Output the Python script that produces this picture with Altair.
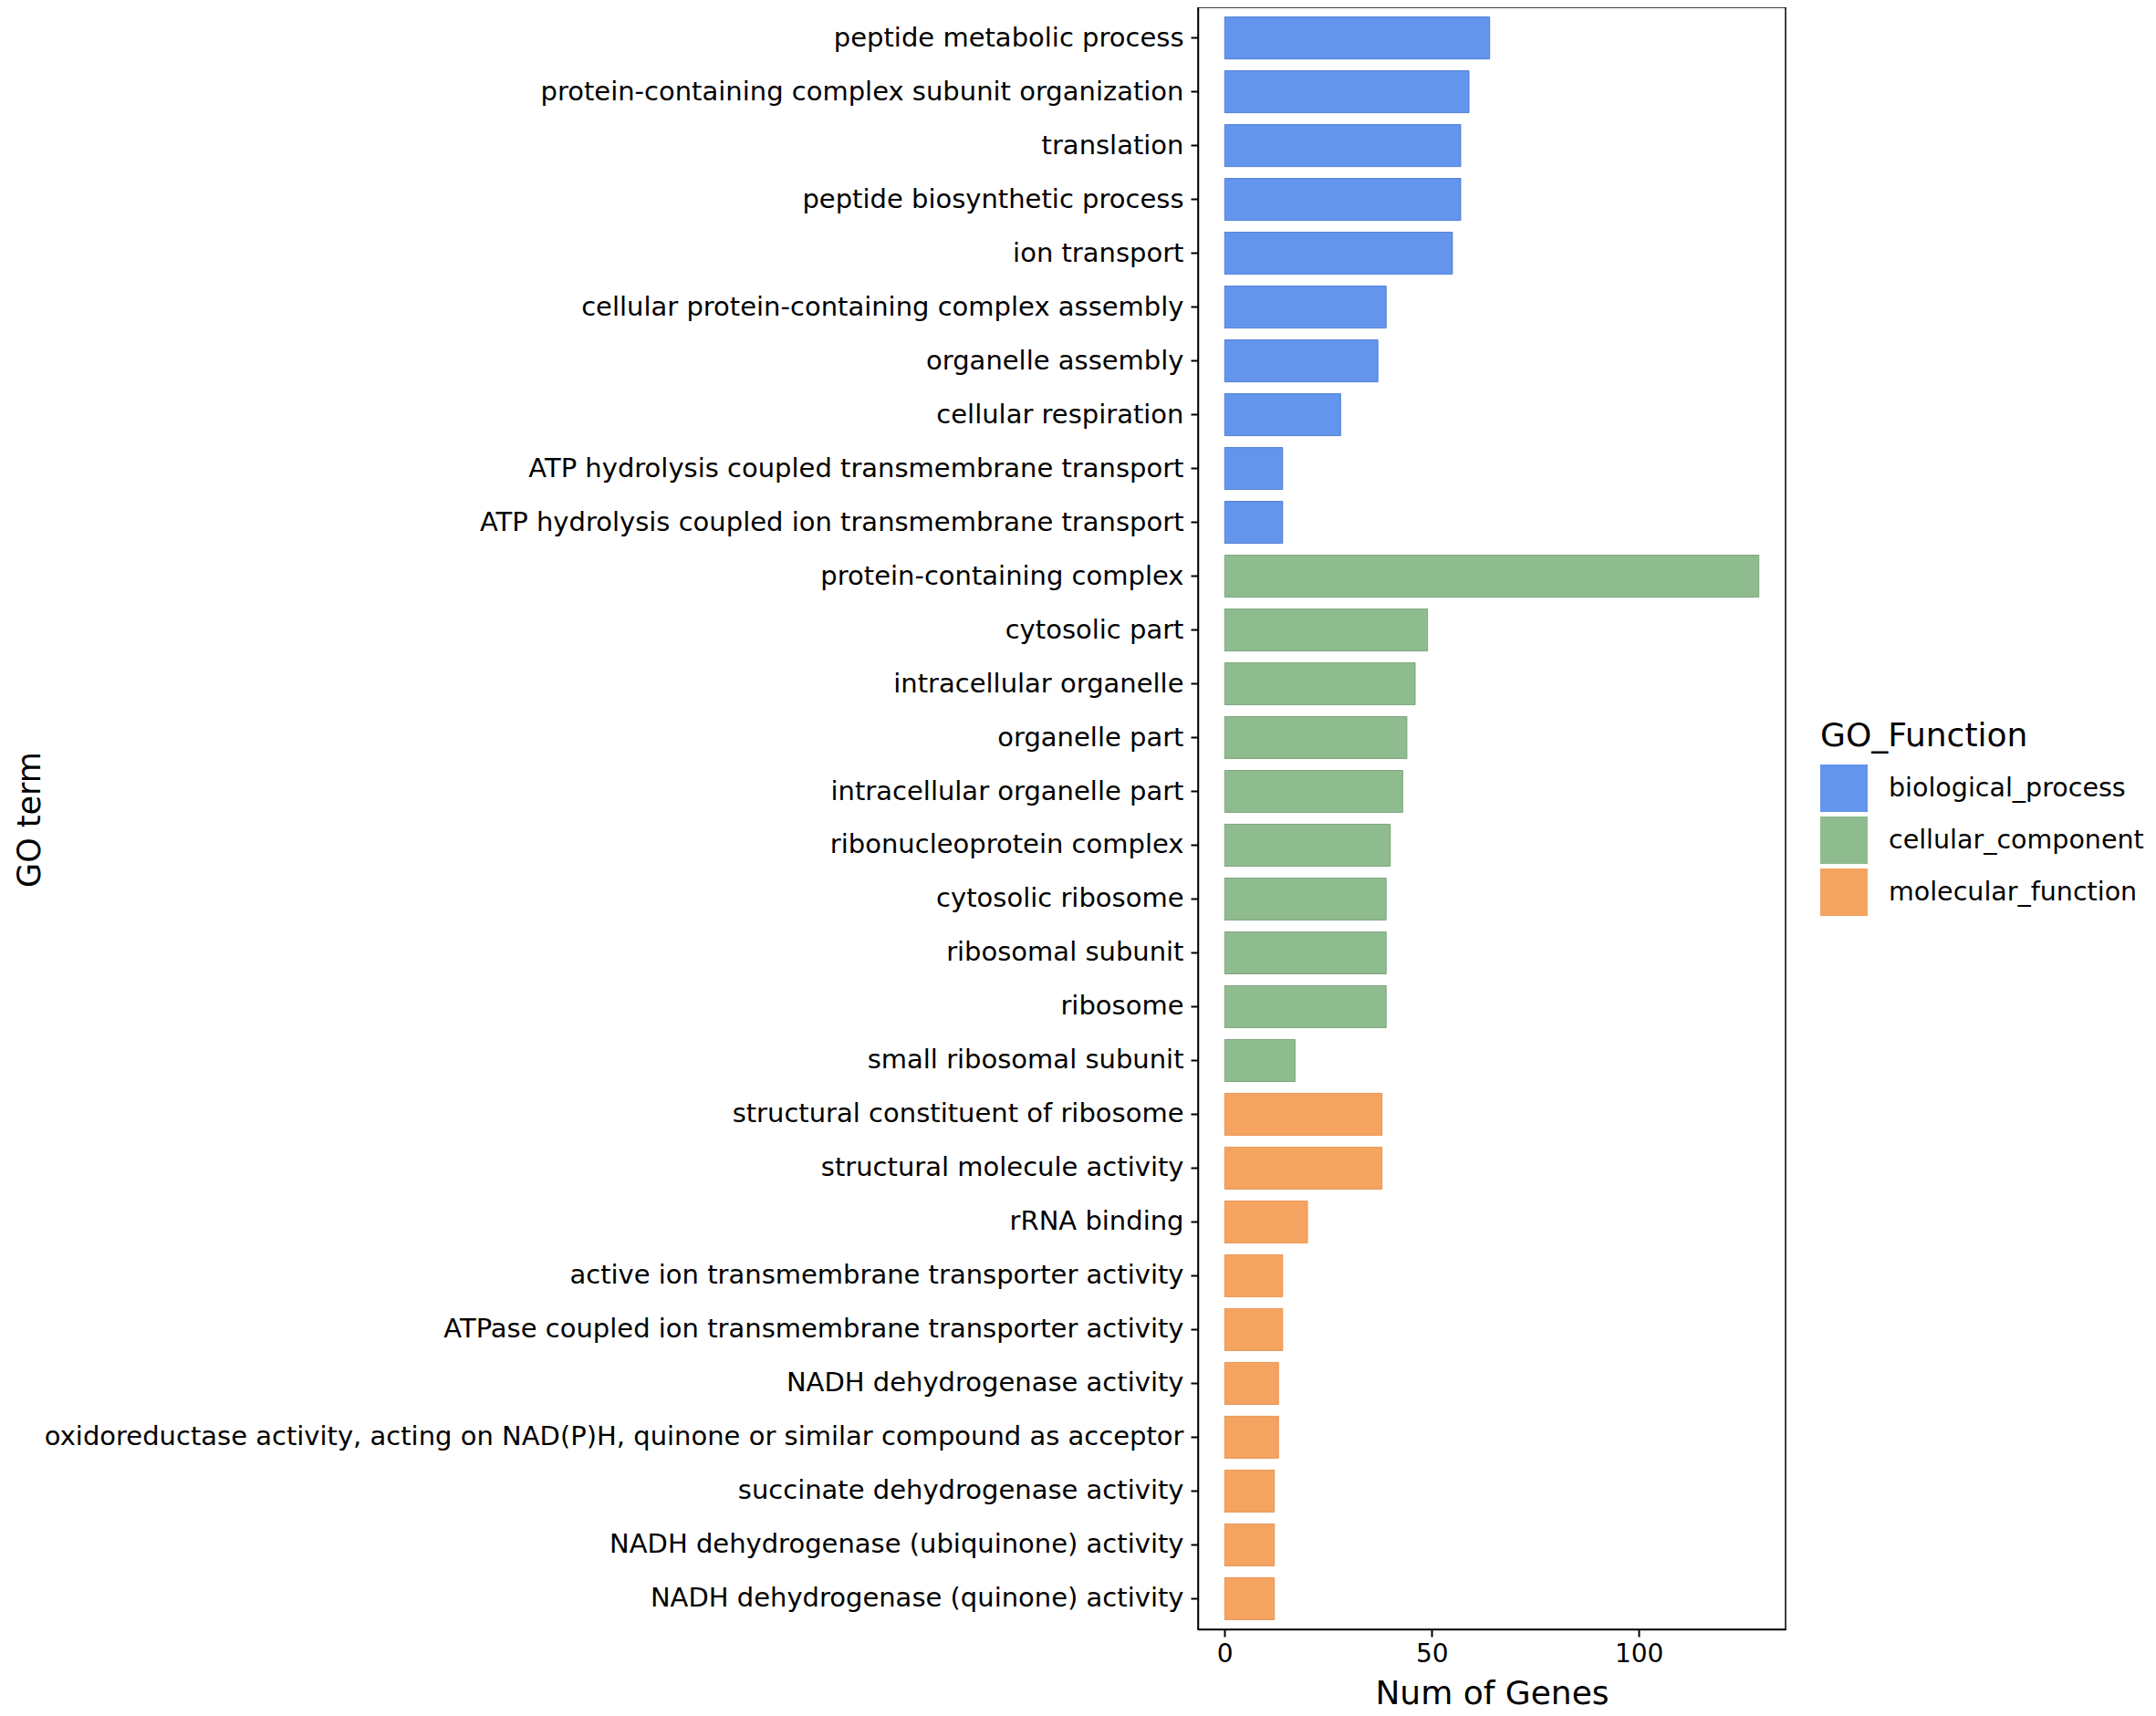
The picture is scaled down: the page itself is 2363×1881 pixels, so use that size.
import altair as alt
import pandas as pd

terms = [
    "peptide metabolic process",
    "protein-containing complex subunit organization",
    "translation",
    "peptide biosynthetic process",
    "ion transport",
    "cellular protein-containing complex assembly",
    "organelle assembly",
    "cellular respiration",
    "ATP hydrolysis coupled transmembrane transport",
    "ATP hydrolysis coupled ion transmembrane transport",
    "protein-containing complex",
    "cytosolic part",
    "intracellular organelle",
    "organelle part",
    "intracellular organelle part",
    "ribonucleoprotein complex",
    "cytosolic ribosome",
    "ribosomal subunit",
    "ribosome",
    "small ribosomal subunit",
    "structural constituent of ribosome",
    "structural molecule activity",
    "rRNA binding",
    "active ion transmembrane transporter activity",
    "ATPase coupled ion transmembrane transporter activity",
    "NADH dehydrogenase activity",
    "oxidoreductase activity, acting on NAD(P)H, quinone or similar compound as acceptor",
    "succinate dehydrogenase activity",
    "NADH dehydrogenase (ubiquinone) activity",
    "NADH dehydrogenase (quinone) activity",
]
num_genes = [64, 59, 57, 57, 55, 39, 37, 28, 14, 14,
             129, 49, 46, 44, 43, 40, 39, 39, 39, 17,
             38, 38, 20, 14, 14, 13, 13, 12, 12, 12]
functions = (["biological_process"] * 10 + ["cellular_component"] * 10
             + ["molecular_function"] * 10)

func_domain = ["biological_process", "cellular_component", "molecular_function"]
func_colors = ["#6495ED", "#8FBC8F", "#F4A460"]
func_edges = ["#3f6fcc", "#6f9a6f", "#e38a45"]

df = pd.DataFrame({"GO term": terms, "Num of Genes": num_genes, "GO_Function": functions})

FONT = "DejaVu Sans"

bars = alt.Chart(df).mark_bar(strokeWidth=1, strokeOpacity=0.8).encode(
    x=alt.X(
        "Num of Genes:Q",
        scale=alt.Scale(domain=[-6.45, 135.45], nice=False, zero=False),
        axis=alt.Axis(
            values=[0, 50, 100], grid=False, domainColor="black", domainWidth=1.5,
            tickColor="black", tickWidth=2, tickSize=8, labelFontSize=28,
            labelPadding=5, labelColor="black", labelFont=FONT,
            title="Num of Genes", titleFontSize=36, titleFontWeight="normal",
            titleFont=FONT, titleColor="black", titleBaseline="alphabetic",
            titleY=81, titlePadding=0,
        ),
    ),
    y=alt.Y(
        "GO term:N",
        sort=terms,
        scale=alt.Scale(paddingInner=0.22, paddingOuter=0.18),
        axis=alt.Axis(
            grid=False, domainColor="black", domainWidth=1.5, tickColor="black",
            tickWidth=2, tickSize=8, labelFontSize=29, labelPadding=8,
            labelColor="black", labelFont=FONT, labelLimit=2000,
            title="GO term", titleFontSize=35, titleFontWeight="normal",
            titleFont=FONT, titleColor="black", titleAngle=-90,
            titleBaseline="alphabetic", titleAlign="center",
            titleX=-1270, titleY=890,
        ),
    ),
    color=alt.Color(
        "GO_Function:N",
        scale=alt.Scale(domain=func_domain, range=func_colors),
        legend=alt.Legend(
            title="GO_Function", orient="none", legendX=682, legendY=782,
            titleFontSize=36, titleFontWeight="normal", titleFont=FONT,
            titleColor="black", titlePadding=12, titleLimit=1000,
            labelFontSize=28.5, labelFont=FONT, labelColor="black",
            labelOffset=23, labelLimit=1000,
            symbolType="square", symbolSize=2704, symbolStrokeWidth=0,
            symbolOpacity=1, rowPadding=5, padding=0,
        ),
    ),
    stroke=alt.Stroke(
        "GO_Function:N",
        scale=alt.Scale(domain=func_domain, range=func_edges),
        legend=None,
    ),
).properties(
    width=644,
    height=1778,
    autosize=alt.AutoSizeParams(type="none"),
    padding={"left": 1305, "top": 0, "right": 398, "bottom": 95},
)

chart = bars.configure(
    background="white",
    view=alt.ViewConfig(stroke="black", strokeWidth=1.5),
)

chart.save("out.html", embed_options={"renderer": "svg", "actions": False})
